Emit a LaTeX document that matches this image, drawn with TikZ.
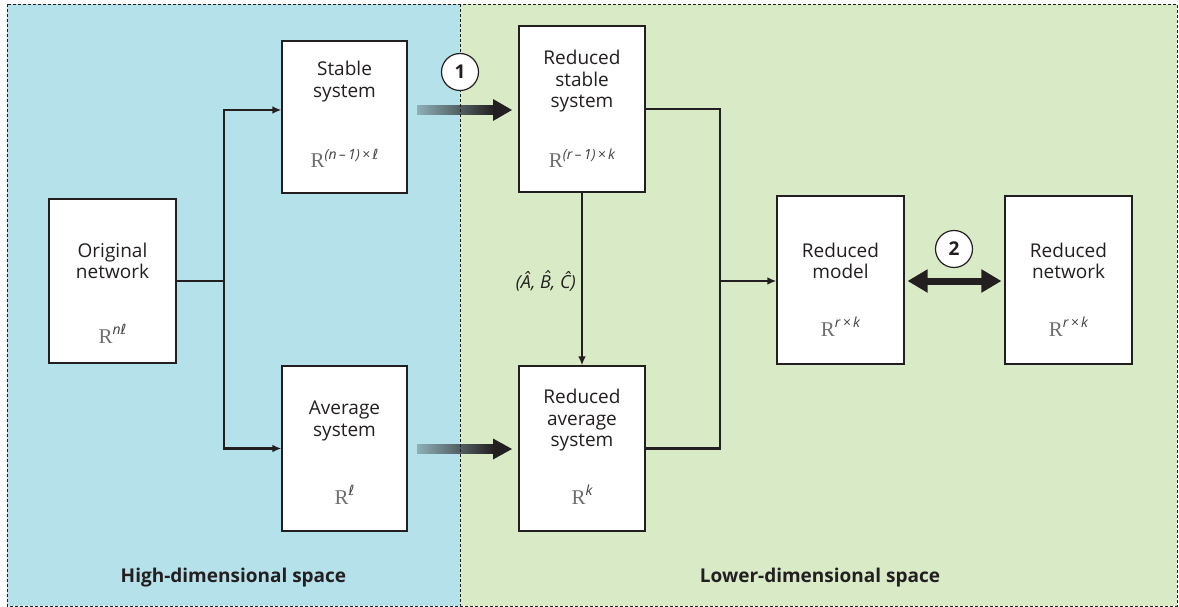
\documentclass[tikz,border=0pt]{standalone}
\usepackage{fontspec}
\setmainfont{Open Sans}
\newfontfamily\rfont{Liberation Serif}
\newfontfamily\djfont{DejaVu Sans}
\usetikzlibrary{arrows.meta}
\definecolor{bgblue}{HTML}{B5E1EA}
\definecolor{bggreen}{HTML}{D9EAC7}
\definecolor{rgray}{HTML}{6D6E70}
\definecolor{sgray}{HTML}{404042}
\definecolor{ink}{HTML}{231F20}
\newcommand{\ellc}{{\djfont\itshape ℓ}}
\newcommand{\Rsup}[1]{{\fontsize{21}{21}\selectfont\rfont\color{rgray}R}\raisebox{9pt}{\fontsize{14}{14}\selectfont\itshape\color{sgray}#1}}
\begin{document}
\begin{tikzpicture}[x=1pt,y=-1pt,
 box/.style={draw=ink, line width=1.1pt, fill=white, inner sep=0pt},
 ttl/.style={align=center, font=\fontsize{19}{21.5}\selectfont, text=ink, inner sep=0pt},
 dimlbl/.style={anchor=base, inner sep=0pt},
 conn/.style={draw=ink, line width=2.3pt},
 carrow/.style={conn, -{Latex[length=9pt,width=7.5pt]}},
 numc/.style={circle, draw=ink, line width=1.2pt, fill=white, minimum size=37pt, inner sep=0pt, font=\fontsize{19}{19}\selectfont\bfseries, text=ink},
 spacelbl/.style={font=\fontsize{19}{19}\selectfont\bfseries, text=ink, inner sep=0pt},
 fadeshaft/.style={left color=black!22!bgblue, right color=ink},
 dashln/.style={draw=ink, line width=0.8pt, dash pattern=on 3pt off 2pt}
]
\useasboundingbox (0,0) rectangle (1179,607);
% backgrounds
\fill[bgblue] (7,4) rectangle (460,606);
\fill[bggreen] (460,4) rectangle (1177,606);

% boxes
\node[box, minimum width=127pt, minimum height=164pt] (orig) at (112.5,281) {};
\node[box, minimum width=125pt, minimum height=152pt] (stab) at (344.5,117) {};
\node[box, minimum width=125pt, minimum height=165pt] (avg) at (344.5,448.5) {};
\node[box, minimum width=126pt, minimum height=166pt] (rstab) at (582,109) {};
\node[box, minimum width=126pt, minimum height=165pt] (ravg) at (582,448.5) {};
\node[box, minimum width=127pt, minimum height=168pt] (rmod) at (840.5,280) {};
\node[box, minimum width=127pt, minimum height=168pt] (rnet) at (1068.5,280) {};

% titles
\node[ttl] (origt) at (112.5,261) {Original\\network};
\node[ttl] (stabt) at (344.5,81.5) {Stable\\system};
\node[ttl] (avgt) at (344.5,421) {Average\\system};
\node[ttl] (rstabt) at (582,81.5) {Reduced\\stable\\system};
\node[ttl] (ravgt) at (582,420.5) {Reduced\\average\\system};
\node[ttl] (rmodt) at (840.5,261) {Reduced\\model};
\node[ttl] (rnett) at (1068.5,261) {Reduced\\network};

% dimension labels
\node[dimlbl] (origd) at (112.5,343) {\Rsup{n\ellc}};
\node[dimlbl] (stabd) at (344.5,168) {\Rsup{(n\,–\,1)\,×\,\ellc}};
\node[dimlbl] (avgd) at (344.5,504) {\Rsup{\ellc}};
\node[dimlbl] (rstabd) at (582,168) {\Rsup{(r\,–\,1)\,×\,k}};
\node[dimlbl] (ravgd) at (582,504) {\Rsup{k}};
\node[dimlbl] (rmodd) at (840.5,336) {\Rsup{r\,×\,k}};
\node[dimlbl] (rnetd) at (1068.5,336) {\Rsup{r\,×\,k}};

% connectors left
\coordinate (j1) at (224,281);
\draw[conn] (orig.east) -- (j1);
\draw[carrow] (j1) |- ([yshift=7pt]stab.west);
\draw[carrow] (j1) |- (avg.west);

% connectors right
\coordinate (j2) at (720,281);
\draw[conn] (rstab.east) -| (j2);
\draw[conn] (ravg.east) -| (j2);
\draw[carrow] (j2) -- (rmod.west |- j2);
\draw[carrow] (rstab.south) -- (ravg.north);
\node[anchor=east, inner sep=0pt, font=\fontsize{18}{18}\selectfont\itshape, text=ink] (abc) at (576,281) {(\^{A}, \^{B}, \^{C})};

% gradient arrows
\shade[fadeshaft] (417,105.5) rectangle (494,114.5);
\fill[ink] (493,99) -- (512,110) -- (493,121) -- cycle;
\shade[fadeshaft] (417,444.5) rectangle (494,453.5);
\fill[ink] (493,438.5) -- (512,449) -- (493,459.5) -- cycle;

% double arrow
\draw[ink, line width=7pt, {Triangle[length=20pt,width=22pt]}-{Triangle[length=20pt,width=22pt]}, shorten <=3pt, shorten >=3pt] ([yshift=-1pt]rmod.east) -- ([yshift=-1pt]rnet.west);

% dashed frames
\draw[dashln] (460,4) -- (460,606);
\draw[dashln] (7,4) rectangle (1177,606);

% numbered circles
\node[numc] (c1) at (460,72) {1};
\node[numc] (c2) at (954,249) {2};

% space labels
\node[spacelbl] (hi) at (233.5,578) {High-dimensional space};
\node[spacelbl] (lo) at (820,578) {Lower-dimensional space};
\end{tikzpicture}
\end{document}
